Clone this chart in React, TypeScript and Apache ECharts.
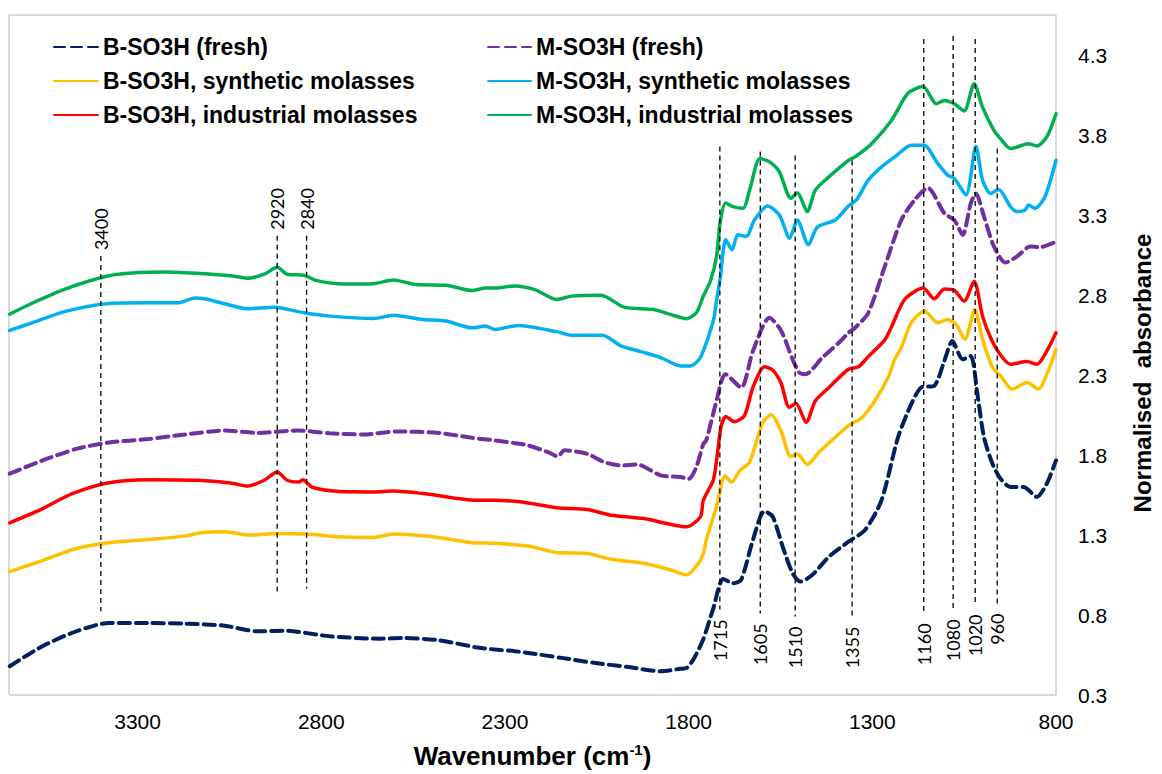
import React, { useEffect, useRef } from "react";
import * as echarts from "echarts";

// ---- Data (wavenumber cm-1, normalised absorbance) ----
const bFresh: [number, number][] = [
  [3648, 0.48], [3559, 0.605], [3467, 0.698], [3378, 0.75], [3270, 0.75], [3171, 0.746], [3063, 0.733],
  [2974, 0.698], [2901, 0.702], [2777, 0.667], [2642, 0.652], [2577, 0.656], [2480, 0.642], [2380, 0.599],
  [2327, 0.584], [2273, 0.574], [2237, 0.563], [2146, 0.532], [2057, 0.501], [1968, 0.476], [1876, 0.449],
  [1822, 0.464], [1805, 0.47], [1787, 0.522], [1760, 0.65], [1733, 0.84], [1706, 1.025], [1679, 0.999],
  [1657, 1.02], [1625, 1.269], [1594, 1.449], [1571, 1.414], [1544, 1.227], [1517, 1.061], [1495, 1.009],
  [1463, 1.051], [1418, 1.165], [1365, 1.258], [1320, 1.331], [1275, 1.517], [1230, 1.911], [1194, 2.118],
  [1167, 2.222], [1131, 2.233], [1104, 2.388], [1082, 2.513], [1054, 2.398], [1032, 2.419], [1014, 2.181],
  [996, 1.911], [973, 1.745], [951, 1.652], [924, 1.6], [888, 1.6], [852, 1.538], [825, 1.621], [800, 1.766],
];

const bSynthetic: [number, number][] = [
  [3648, 1.071], [3559, 1.14], [3467, 1.216], [3378, 1.252], [3270, 1.272], [3171, 1.293], [3127, 1.314],
  [3063, 1.32], [2993, 1.3], [2920, 1.31], [2839, 1.306], [2758, 1.289], [2658, 1.285], [2604, 1.306],
  [2496, 1.289], [2389, 1.252], [2327, 1.248], [2237, 1.231], [2156, 1.19], [2076, 1.185], [2011, 1.148],
  [1922, 1.123], [1849, 1.082], [1806, 1.051], [1774, 1.12], [1760, 1.185], [1752, 1.269], [1725, 1.47],
  [1701, 1.67], [1683, 1.631], [1660, 1.704], [1634, 1.756], [1598, 2.004], [1575, 2.052], [1549, 1.953],
  [1522, 1.791], [1504, 1.807], [1477, 1.741], [1445, 1.818], [1401, 1.911], [1365, 1.984], [1329, 2.031],
  [1293, 2.139], [1257, 2.284], [1239, 2.398], [1221, 2.471], [1194, 2.627], [1158, 2.699], [1122, 2.627],
  [1095, 2.647], [1072, 2.616], [1048, 2.523], [1021, 2.709], [1000, 2.523], [973, 2.347], [951, 2.295],
  [919, 2.212], [879, 2.253], [848, 2.212], [821, 2.326], [800, 2.46],
];

const bIndustrial: [number, number][] = [
  [3648, 1.376], [3567, 1.455], [3478, 1.558], [3378, 1.627], [3270, 1.646], [3136, 1.642], [3047, 1.625],
  [3001, 1.606], [2955, 1.642], [2920, 1.693], [2893, 1.642], [2861, 1.631], [2850, 1.646], [2826, 1.6],
  [2758, 1.573], [2658, 1.569], [2604, 1.575], [2507, 1.555], [2380, 1.517], [2327, 1.517], [2273, 1.511],
  [2237, 1.5], [2159, 1.471], [2076, 1.459], [2011, 1.424], [1922, 1.403], [1860, 1.372], [1806, 1.351],
  [1768, 1.413], [1760, 1.517], [1733, 1.642], [1724, 1.766], [1712, 1.973], [1699, 2.04], [1675, 2.008],
  [1648, 2.046], [1625, 2.222], [1594, 2.351], [1571, 2.33], [1549, 2.253], [1526, 2.098], [1508, 2.123],
  [1480, 2.004], [1455, 2.139], [1418, 2.222], [1365, 2.336], [1338, 2.351], [1311, 2.415], [1266, 2.52],
  [1248, 2.6], [1212, 2.772], [1162, 2.844], [1131, 2.776], [1104, 2.838], [1077, 2.83], [1050, 2.761],
  [1023, 2.886], [1000, 2.668], [978, 2.533], [951, 2.425], [924, 2.367], [879, 2.384], [852, 2.367],
  [825, 2.45], [800, 2.564],
];

const mFresh: [number, number][] = [
  [3648, 1.683], [3559, 1.766], [3467, 1.838], [3378, 1.878], [3270, 1.9], [3171, 1.928], [3063, 1.953],
  [2974, 1.938], [2866, 1.953], [2777, 1.936], [2685, 1.928], [2596, 1.947], [2480, 1.938], [2389, 1.907],
  [2327, 1.891], [2273, 1.874], [2237, 1.86], [2183, 1.818], [2156, 1.791], [2138, 1.829], [2076, 1.807],
  [2030, 1.756], [1984, 1.735], [1941, 1.741], [1876, 1.673], [1822, 1.662], [1800, 1.65], [1779, 1.725],
  [1760, 1.869], [1752, 1.891], [1725, 2.13], [1700, 2.305], [1657, 2.222], [1625, 2.45], [1580, 2.658],
  [1549, 2.58], [1517, 2.398], [1499, 2.316], [1482, 2.305], [1436, 2.409], [1391, 2.502], [1365, 2.564],
  [1347, 2.595], [1311, 2.689], [1266, 2.979], [1221, 3.269], [1185, 3.394], [1149, 3.47], [1104, 3.311],
  [1077, 3.269], [1054, 3.176], [1032, 3.373], [1018, 3.435], [996, 3.29], [969, 3.103], [938, 3.003],
  [906, 3.041], [870, 3.103], [843, 3.099], [800, 3.134],
];

const mSynthetic: [number, number][] = [
  [3648, 2.579], [3586, 2.627], [3494, 2.699], [3378, 2.747], [3270, 2.751], [3190, 2.751], [3144, 2.782],
  [3117, 2.776], [3063, 2.745], [3001, 2.714], [2928, 2.724], [2847, 2.689], [2777, 2.668], [2658, 2.653],
  [2604, 2.674], [2523, 2.647], [2461, 2.637], [2389, 2.595], [2353, 2.606], [2327, 2.585], [2264, 2.61],
  [2159, 2.571], [2119, 2.548], [2035, 2.548], [1984, 2.482], [1930, 2.446], [1876, 2.409], [1822, 2.357],
  [1795, 2.357], [1768, 2.409], [1733, 2.637], [1725, 2.751], [1714, 2.906], [1699, 3.145], [1682, 3.083],
  [1666, 3.176], [1643, 3.166], [1621, 3.269], [1585, 3.356], [1553, 3.3], [1525, 3.155], [1504, 3.269],
  [1474, 3.114], [1450, 3.224], [1401, 3.269], [1365, 3.356], [1342, 3.398], [1311, 3.518], [1275, 3.601],
  [1239, 3.663], [1194, 3.736], [1159, 3.736], [1122, 3.622], [1095, 3.549], [1077, 3.529], [1045, 3.425],
  [1018, 3.73], [1000, 3.518], [978, 3.435], [956, 3.46], [924, 3.352], [906, 3.321], [884, 3.331],
  [875, 3.362], [857, 3.342], [830, 3.414], [800, 3.642],
];

const mIndustrial: [number, number][] = [
  [3648, 2.68], [3586, 2.75], [3494, 2.84], [3378, 2.92], [3297, 2.94], [3225, 2.944], [3117, 2.933],
  [3047, 2.92], [3001, 2.905], [2955, 2.93], [2920, 2.973], [2893, 2.93], [2847, 2.923], [2812, 2.89],
  [2739, 2.869], [2658, 2.871], [2604, 2.894], [2542, 2.865], [2461, 2.861], [2389, 2.828], [2353, 2.844],
  [2327, 2.844], [2273, 2.857], [2219, 2.834], [2159, 2.772], [2119, 2.793], [2038, 2.799], [1976, 2.724],
  [1895, 2.709], [1841, 2.672], [1806, 2.652], [1779, 2.689], [1760, 2.793], [1741, 2.886], [1724, 3.041],
  [1714, 3.259], [1699, 3.375], [1679, 3.352], [1652, 3.342], [1634, 3.456], [1606, 3.653], [1580, 3.632],
  [1553, 3.57], [1522, 3.404], [1504, 3.439], [1477, 3.321], [1455, 3.456], [1418, 3.539], [1365, 3.642],
  [1347, 3.663], [1302, 3.746], [1248, 3.891], [1203, 4.061], [1162, 4.103], [1126, 3.995], [1104, 4.016],
  [1077, 3.995], [1050, 3.95], [1023, 4.12], [1000, 3.974], [969, 3.829], [951, 3.777], [924, 3.715],
  [875, 3.746], [852, 3.732], [825, 3.788], [800, 3.933],
];

const seriesNames = [
  "B-SO3H (fresh)",
  "B-SO3H, synthetic molasses",
  "B-SO3H, industrial molasses",
  "M-SO3H (fresh)",
  "M-SO3H, synthetic molasses",
  "M-SO3H, industrial molasses",
];
const seriesData = [bFresh, bSynthetic, bIndustrial, mFresh, mSynthetic, mIndustrial];
const seriesColors = ["#002060", "#FFC000", "#FF0000", "#7030A0", "#00B0F0", "#00B050"];
const seriesDashed = [true, false, false, true, false, false];

// Peak marker lines: wavenumber, top / bottom (absorbance units), label above (1) or below (0)
const peakWavenumbers = [3400, 2920, 2840, 1715, 1605, 1510, 1355, 1160, 1080, 1020, 960];
const peakTop = [3.043, 3.17, 3.17, 3.728, 3.697, 3.672, 3.641, 4.4, 4.418, 4.4, 3.715];
const peakBottom = [0.823, 0.947, 0.966, 0.835, 0.81, 0.791, 0.79, 0.81, 0.835, 0.866, 0.872];
const peakLabelAbove = [1, 1, 1, 0, 0, 0, 0, 0, 0, 0, 0];

const xMin = 800;
const xMax = 3650;
const xInterval = 500;
const yMin = 0.3;
const yMax = 4.55;
const yInterval = 0.5;

const FONT = "'Liberation Sans', Arial, sans-serif";

export default function App() {
  const ref = useRef<HTMLDivElement>(null);

  useEffect(() => {
    if (!ref.current) return;
    const chart = echarts.init(ref.current, null, { renderer: "svg" });

    const lineSeries = seriesNames.map((name, i) => ({
      name,
      type: "line",
      data: seriesData[i],
      symbol: "none",
      smooth: 0.25,
      color: seriesColors[i],
      lineStyle: {
        color: seriesColors[i],
        width: seriesDashed[i] ? 4 : 3.5,
        type: seriesDashed[i] ? [11, 6] : "solid",
        cap: "round",
      },
      z: 2,
    }));

    const peakSeries = {
      name: "peaks",
      type: "custom",
      silent: true,
      clip: false,
      z: 5,
      data: peakWavenumbers.map((w, i) => [w, peakTop[i], peakBottom[i], peakLabelAbove[i]]),
      encode: { x: 0, y: [1, 2] },
      renderItem: (params: any, api: any) => {
        const w = api.value(0);
        const yt = api.value(1);
        const yb = api.value(2);
        const above = api.value(3) === 1;
        const p1 = api.coord([w, yt]);
        const p2 = api.coord([w, yb]);
        const label = String(peakWavenumbers[params.dataIndex]);
        return {
          type: "group",
          children: [
            {
              type: "line",
              shape: { x1: p1[0], y1: p1[1], x2: p2[0], y2: p2[1] },
              style: { stroke: "#000", lineWidth: 1.3, lineDash: [5, 4] },
            },
            {
              type: "text",
              x: p1[0],
              y: above ? p1[1] - 6 : p2[1] + 10,
              rotation: Math.PI / 2,
              style: {
                text: label,
                align: above ? "left" : "right",
                verticalAlign: "middle",
                fontSize: 18,
                fontFamily: "Lato, 'Open Sans', sans-serif",
                fill: "#000",
              },
            },
          ],
        };
      },
    };

    const legendCommon = {
      orient: "vertical",
      top: 35,
      padding: 0,
      itemHeight: 14,
      itemGap: 10,
      itemStyle: { opacity: 0 },
      textStyle: {
        fontSize: 23,
        fontWeight: "bold",
        fontFamily: FONT,
        color: "#000",
        lineHeight: 24,
      },
    };

    chart.setOption({
      animation: false,
      backgroundColor: "#fff",
      grid: {
        left: 9,
        right: 96,
        top: 15,
        bottom: 75,
        show: true,
        borderColor: "#b4b4b4",
        borderWidth: 1,
        backgroundColor: "transparent",
      },
      legend: [
        { ...legendCommon, data: seriesNames.slice(0, 3), left: 53, itemWidth: 44 },
        { ...legendCommon, data: seriesNames.slice(3), left: 487, itemWidth: 43 },
      ],
      xAxis: {
        type: "value",
        inverse: true,
        min: xMin,
        max: xMax,
        interval: xInterval,
        axisLine: { show: false },
        axisTick: { show: false },
        splitLine: { show: false },
        axisLabel: {
          showMaxLabel: false,
          fontSize: 21,
          fontFamily: FONT,
          color: "#000",
          margin: 16,
          formatter: (v: number) => String(v),
        },
        name: "{a|Wavenumber (cm}{s|-1}{a|)}",
        nameLocation: "middle",
        nameGap: 47,
        nameTextStyle: {
          rich: {
            a: { fontSize: 26, fontWeight: "bold", fontFamily: FONT, color: "#000", lineHeight: 28 },
            s: { fontSize: 15, fontWeight: "bold", fontFamily: FONT, color: "#000", verticalAlign: "top", lineHeight: 15 },
          },
        },
      },
      yAxis: {
        type: "value",
        position: "right",
        min: yMin,
        max: yMax,
        interval: yInterval,
        axisLine: { show: false },
        axisTick: { show: false },
        splitLine: { show: false },
        axisLabel: {
          showMaxLabel: false,
          fontSize: 21,
          fontFamily: FONT,
          color: "#000",
          margin: 22,
          formatter: (v: number) => v.toFixed(1),
        },
        name: "Normalised  absorbance",
        nameLocation: "middle",
        nameRotate: 90,
        nameGap: 74,
        nameTextStyle: {
          fontSize: 24,
          fontWeight: "bold",
          fontFamily: FONT,
          color: "#000",
          padding: [0, 36, 0, 0],
        },
      },
      series: [...lineSeries, peakSeries],
    });

    return () => chart.dispose();
  }, []);

  return (
    <div
      ref={ref}
      style={{ position: "absolute", left: 0, top: 0, width: 1162, height: 774 }}
    />
  );
}
